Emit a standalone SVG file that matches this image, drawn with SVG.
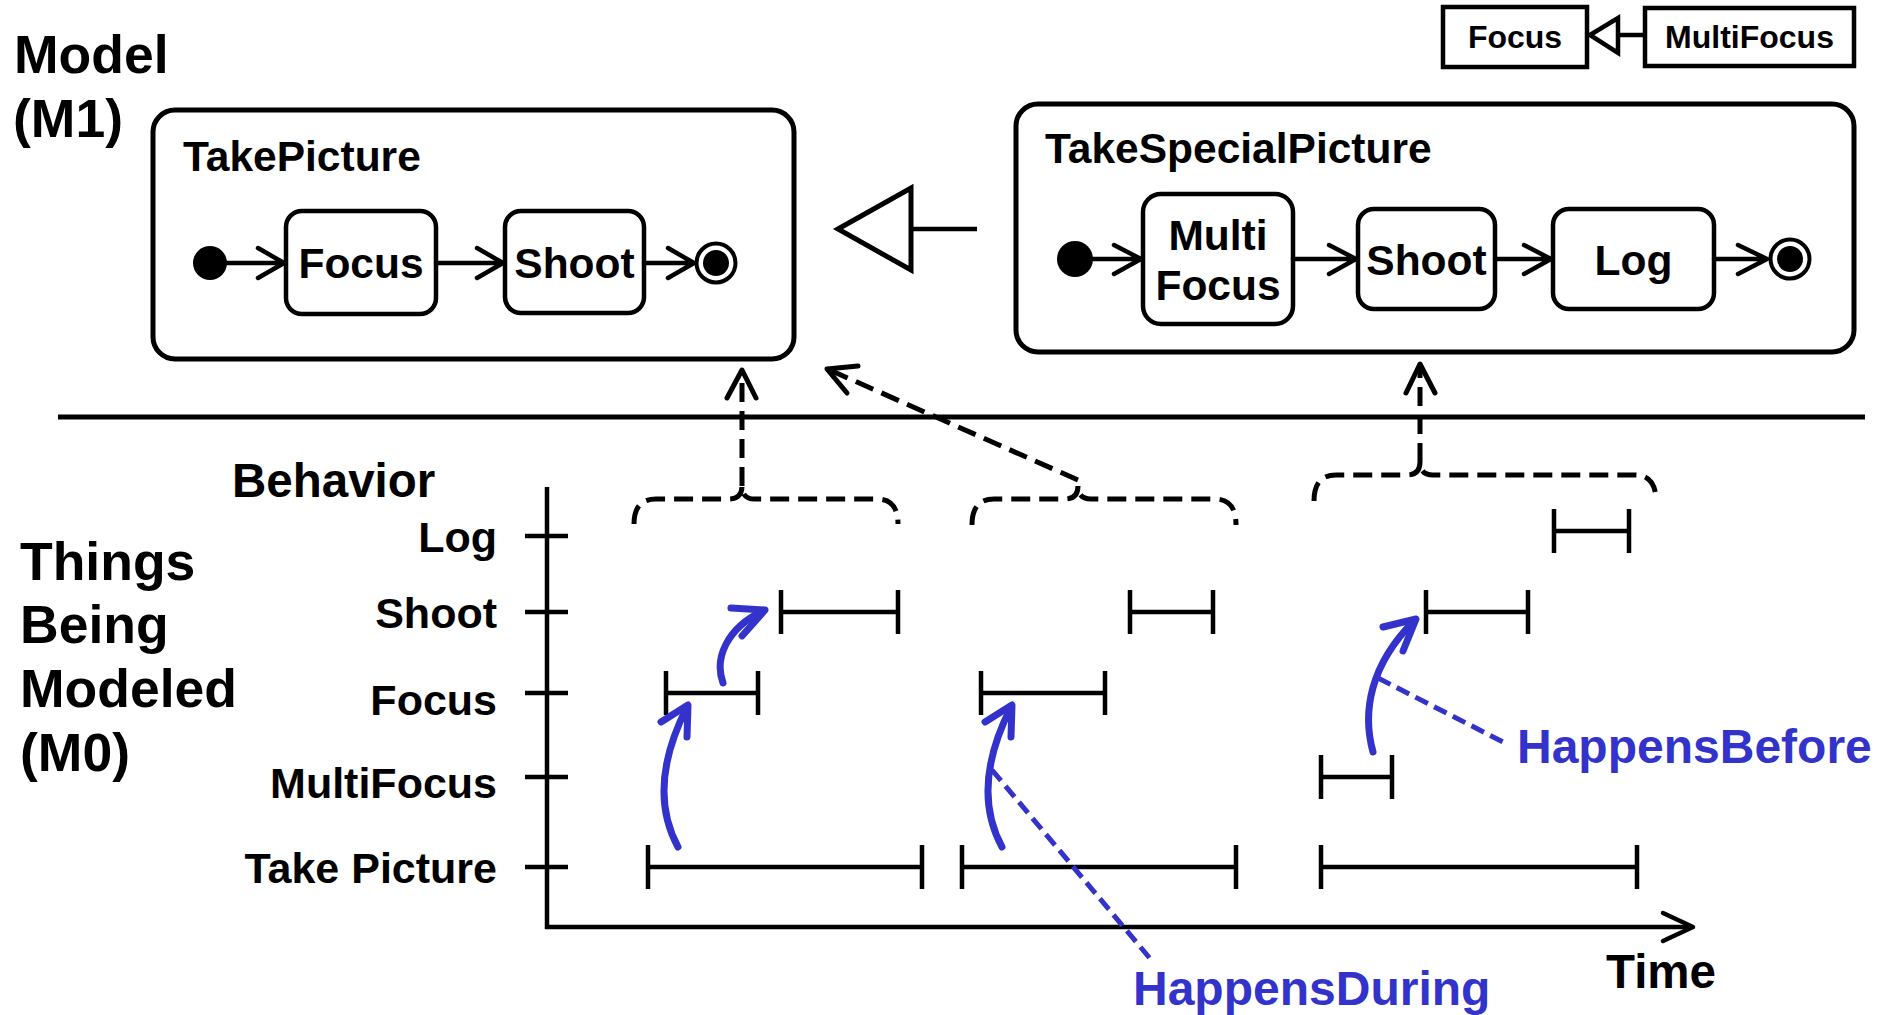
<svg xmlns="http://www.w3.org/2000/svg" width="1881" height="1015" viewBox="0 0 1881 1015">
<style>
text{font-family:"Liberation Sans",Arial,sans-serif;font-weight:bold;fill:#000}
.big{font-size:53.5px}
.lbl{font-size:42.5px}
.axl{font-size:43px;text-anchor:end}
.c{text-anchor:middle}
.blue{fill:#3333CC;font-size:48px}
.box{fill:#fff;stroke:#000;stroke-width:5}
.st{fill:#fff;stroke:#000;stroke-width:4.5}
.ln{fill:none;stroke:#000;stroke-width:4.5;stroke-linecap:round;stroke-linejoin:round}
.ax{fill:none;stroke:#000;stroke-width:4.5}
.iv{fill:none;stroke:#000;stroke-width:4.5}
.dash{fill:none;stroke:#000;stroke-width:5;stroke-dasharray:19 9}
.bl{fill:none;stroke:#3333CC;stroke-width:7;stroke-linecap:round;stroke-linejoin:round}
.bd{fill:none;stroke:#3333CC;stroke-width:5;stroke-dasharray:14 7}
</style>

<g id="titles">
<text class="big" x="14" y="73">Model</text>
<text class="big" x="13" y="137">(M1)</text>
<text class="big" x="20" y="580">Things</text>
<text class="big" x="20" y="643">Being</text>
<text class="big" x="20" y="707">Modeled</text>
<text class="big" x="20" y="771">(M0)</text>
<text x="232" y="497" style="font-size:47.5px">Behavior</text>
<text x="1606" y="988" style="font-size:47.5px">Time</text>
</g>

<g id="legend">
<rect x="1443" y="7" width="144" height="60" fill="#fff" stroke="#000" stroke-width="4.5"/>
<text x="1515" y="48" class="c" style="font-size:32px">Focus</text>
<rect x="1645" y="8" width="209" height="58" fill="#fff" stroke="#000" stroke-width="4.5"/>
<text x="1749.5" y="48" class="c" style="font-size:32px">MultiFocus</text>
<line x1="1618" y1="35" x2="1645" y2="35" stroke="#000" stroke-width="4.5"/>
<polygon points="1590,35 1618,18 1618,53" fill="#fff" stroke="#000" stroke-width="4.5"/>
</g>

<g id="TakePicture">
<rect class="box" x="153" y="110" width="641" height="249" rx="22"/>
<text class="lbl" x="183" y="171">TakePicture</text>
<circle cx="210" cy="263" r="17" fill="#000"/>
<rect class="st" x="286" y="211" width="150" height="103" rx="16"/>
<text class="lbl c" x="361" y="278">Focus</text>
<rect class="st" x="505" y="211" width="139" height="102" rx="16"/>
<text class="lbl c" x="574.5" y="278">Shoot</text>
<circle cx="716" cy="263" r="19.5" fill="#fff" stroke="#000" stroke-width="4"/>
<circle cx="716" cy="263" r="13" fill="#000"/>
<path class="ln" d="M227,263 H284 M258,248 L284,263 L258,278"/>
<path class="ln" d="M436,263 H503 M477,248 L503,263 L477,278"/>
<path class="ln" d="M644,263 H694 M668,248 L694,263 L668,278"/>
</g>

<g id="TakeSpecialPicture">
<rect class="box" x="1016" y="104" width="838" height="248" rx="22"/>
<text class="lbl" x="1045" y="163">TakeSpecialPicture</text>
<circle cx="1075" cy="259" r="18" fill="#000"/>
<rect class="st" x="1143" y="194" width="150" height="130" rx="18"/>
<text class="lbl c" x="1218" y="250">Multi</text>
<text class="lbl c" x="1218" y="300">Focus</text>
<rect class="st" x="1358" y="209" width="137" height="100" rx="16"/>
<text class="lbl c" x="1426.5" y="275">Shoot</text>
<rect class="st" x="1553" y="209" width="161" height="100" rx="16"/>
<text class="lbl c" x="1633.5" y="275">Log</text>
<circle cx="1790" cy="259" r="19.5" fill="#fff" stroke="#000" stroke-width="4"/>
<circle cx="1790" cy="259" r="13" fill="#000"/>
<path class="ln" d="M1093,259 H1141 M1114,245 L1141,259 L1114,274"/>
<path class="ln" d="M1293,259 H1356 M1329,245 L1356,259 L1329,274"/>
<path class="ln" d="M1495,259 H1551 M1524,245 L1551,259 L1524,274"/>
<path class="ln" d="M1714,259 H1767 M1738,245 L1767,259 L1738,274"/>
</g>

<g id="generalization">
<line x1="911" y1="229" x2="977" y2="229" stroke="#000" stroke-width="4.5"/>
<polygon points="838,229 911,188 911,270" fill="#fff" stroke="#000" stroke-width="5" stroke-linejoin="miter"/>
</g>

<g id="separator">
<line x1="58" y1="417" x2="1865" y2="417" stroke="#000" stroke-width="5"/>
</g>

<g id="axes">
<line class="ax" x1="547" y1="487" x2="547" y2="929"/>
<line class="ax" x1="545" y1="927" x2="1692" y2="927"/>
<path class="ln" d="M1663,913 L1693,927 L1663,941"/>
<path class="ax" d="M525,536 H568 M525,612 H568 M525,693 H568 M525,777 H568 M525,867 H568"/>
<text class="axl" x="497" y="552">Log</text>
<text class="axl" x="497" y="628">Shoot</text>
<text class="axl" x="497" y="715">Focus</text>
<text class="axl" x="497" y="798">MultiFocus</text>
<text class="axl" x="497" y="883">Take Picture</text>
</g>

<g id="group1">
<path class="iv" d="M648,845 V889 M648,867 H922 M922,845 V889"/>
<path class="iv" d="M666,671 V715 M666,693 H758 M758,671 V715"/>
<path class="iv" d="M781,590 V634 M781,612 H898 M898,590 V634"/>
</g>

<g id="group2">
<path class="iv" d="M962,845 V889 M962,867 H1236 M1236,845 V889"/>
<path class="iv" d="M981,671 V715 M981,693 H1105 M1105,671 V715"/>
<path class="iv" d="M1130,590 V634 M1130,612 H1213 M1213,590 V634"/>
</g>

<g id="group3">
<path class="iv" d="M1321,845 V889 M1321,867 H1637 M1637,845 V889"/>
<path class="iv" d="M1321,755 V799 M1321,777 H1392 M1392,755 V799"/>
<path class="iv" d="M1426,590 V634 M1426,612 H1528 M1528,590 V634"/>
<path class="iv" d="M1554,509 V553 M1554,531 H1629 M1629,509 V553"/>
</g>

<g id="connectors">
<path class="dash" d="M634,524 Q634,499 656,499 H729 Q742,499 742,486 Q742,499 755,499 H877 Q898,499 898,524"/>
<path class="dash" d="M742,486 V376"/>
<path class="ln" style="stroke-width:5" d="M727,398 L742,370 L756,398"/>
<path class="dash" d="M972,525 Q972,499 994,499 H1065 Q1078,499 1078,486 Q1078,499 1091,499 H1215 Q1236,499 1236,525"/>
<path class="dash" d="M1078,480 L832,371"/>
<path class="ln" style="stroke-width:5" d="M858,366 L827,369 L847,393"/>
<path class="dash" d="M1314,501 Q1314,475 1336,475 H1407 Q1420,475 1420,462 Q1420,475 1433,475 H1635 Q1656,475 1656,501"/>
<path class="dash" d="M1420,462 V370"/>
<path class="ln" style="stroke-width:5" d="M1406,393 L1420,364 L1435,393"/>

<path class="bl" d="M678,847 Q646,788 687,707"/>
<path class="bl" d="M661,722 L688,705 L687,737"/>
<path class="bl" d="M723,683 C714,658 727,628 763,611"/>
<path class="bl" d="M731,608 L765,610 L742,636"/>
<path class="bl" d="M1002,847 Q970,788 1011,707"/>
<path class="bl" d="M985,722 L1012,705 L1011,737"/>
<path class="bl" d="M1373,752 C1362,712 1370,665 1414,621"/>
<path class="bl" d="M1383,627 L1416,619 L1403,651"/>

<path class="bd" d="M992,770 L1153,962"/>
<path class="bd" d="M1378,678 L1505,743"/>
</g>

<g id="relation-labels">
<text class="blue" x="1517" y="763">HappensBefore</text>
<text class="blue" x="1133" y="1005">HappensDuring</text>
</g>
</svg>
